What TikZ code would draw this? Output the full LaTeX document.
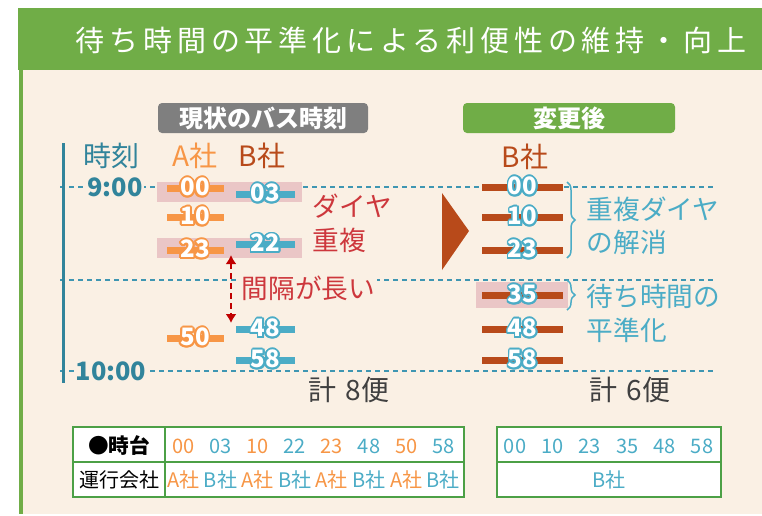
\documentclass[tikz,border=0pt]{standalone}
\usepackage{fontspec}
\setmainfont{Noto Sans CJK JP}
\usepackage{contour}
\usetikzlibrary{arrows.meta,decorations.pathreplacing}

\newlength{\du}
\setlength{\du}{0.75pt}

\contourlength{1.4pt}
\contournumber{16}

\definecolor{headgreen}{RGB}{112,173,71}
\definecolor{paper}{RGB}{250,240,228}
\definecolor{colA}{RGB}{247,150,70}
\definecolor{colB}{RGB}{75,172,198}
\definecolor{busbrown}{RGB}{184,74,26}
\definecolor{timeteal}{RGB}{49,132,155}
\definecolor{gridblue}{RGB}{62,150,178}
\definecolor{dupred}{RGB}{205,55,60}
\definecolor{arrowred}{RGB}{192,0,0}
\definecolor{duppink}{RGB}{234,198,198}
\definecolor{taggray}{RGB}{127,127,127}
\definecolor{tablegreen}{RGB}{76,160,70}
\definecolor{sumgray}{RGB}{64,64,64}

\tikzset{
  titletext/.style={text=white, font=\fontsize{21.75pt}{26pt}\selectfont\addfontfeature{LetterSpace=16.5}},
  tagbox/.style={text=white, rounded corners=4\du, minimum height=30\du, inner sep=0pt, font=\bfseries\fontsize{18pt}{20pt}\selectfont},
  headtext/.style={font=\fontsize{21pt}{24pt}\selectfont},
  hourtext/.style={text=timeteal, fill=paper, inner sep=1.5\du, font=\bfseries\fontsize{19pt}{21pt}\selectfont},
  timegrid/.style={draw=gridblue, line width=1.3\du, dash pattern=on 5\du off 4\du},
  timeaxis/.style={draw=timeteal, line width=3\du},
  busbar/.style={minimum height=7\du, inner sep=0pt},
  busnum/.style={text=white, inner sep=0pt, font=\bfseries\fontsize{18pt}{20pt}\selectfont},
  dupbox/.style={fill=duppink, inner sep=0pt},
  redtext/.style={text=dupred, align=left, font=\fontsize{20pt}{25.5pt}\selectfont},
  bluetext/.style={text=colB, align=left, font=\fontsize{20pt}{25pt}\selectfont},
  gaparrow/.style={draw=arrowred, line width=2.5\du, dash pattern=on 6\du off 4\du,
    {Latex[length=6.75pt,width=8.25pt]}-{Latex[length=6.75pt,width=8.25pt]}},
  bluebrace/.style={draw=colB, line width=1.5\du, decorate, decoration={brace, amplitude=6pt}},
  sumtext/.style={text=sumgray, font=\fontsize{21pt}{23pt}\selectfont},
  tableline/.style={draw=tablegreen, line width=1.5\du},
  celltext/.style={inner sep=0pt, font=\fontsize{15pt}{17pt}\selectfont},
}

% bar with its minute label: name, x, y, width, bar colour, outline colour, text
\newcommand{\busmark}[7]{%
  \node[busbar, minimum width=#4\du, fill=#5] (#1) at (#2\du,#3\du) {};
  \node[busnum] (#1-num) at (#1) {\contour{#6}{#7}};
}

\begin{document}
\begin{tikzpicture}
\pgftransformxscale{1.000000}
\pgftransformyscale{-1.000000}
\useasboundingbox (0\du,0\du) rectangle (762\du,515\du);
\fill[white] (0\du,0\du) rectangle (762\du,515\du);
% header and panel
\fill[headgreen] (18\du,8\du) rectangle (762\du,70\du);
\fill[paper] (19\du,70\du) rectangle (762\du,514\du);
\fill[headgreen] (19\du,70\du) rectangle (23\du,514\du);
\node[titletext] (title) at (411\du,40\du) {待ち時間の平準化による利便性の維持・向上};
\node[tagbox, fill=taggray, minimum width=210\du] (nowtag) at (263\du,118\du) {現状のバス時刻};
\node[tagbox, fill=headgreen, minimum width=212\du] (newtag) at (569\du,118\du) {変更後};
% column heads
\node[headtext, text=timeteal] (jikoku) at (111\du,156\du) {時刻};
\node[headtext, text=colA] (headA) at (195\du,156\du) {A社};
\node[headtext, text=busbrown] (headB) at (262\du,156\du) {B社};
\node[headtext, text=busbrown] (headBnew) at (525\du,157\du) {B社};
% time grid
\draw[timegrid] (60\du,187\du) -- (715\du,187\du);
\draw[timegrid] (60\du,280\du) -- (715\du,280\du);
\draw[timegrid] (60\du,371\du) -- (715\du,371\du);
\draw[timeaxis] (63.5\du,143\du) -- (63.5\du,383\du);
\node[hourtext] (nine) at (115\du,187\du) {9:00};
\node[hourtext] (ten) at (111\du,371\du) {10:00};
% overlapping runs
\node[dupbox, minimum width=145\du, minimum height=20\du] (dup1) at (229.5\du,192\du) {};
\node[dupbox, minimum width=145\du, minimum height=20\du] (dup2) at (229.5\du,248\du) {};
\node[dupbox, minimum width=92\du, minimum height=26\du] (even35) at (522\du,295\du) {};
% current timetable
\busmark{a00}{195}{188}{57}{colA}{colA}{00}
\busmark{a10}{195}{217}{57}{colA}{colA}{10}
\busmark{a23}{195}{250}{57}{colA}{colA}{23}
\busmark{a50}{195}{338}{57}{colA}{colA}{50}
\busmark{b03}{265.5}{194}{59}{colB}{colB}{03}
\busmark{b22}{265.5}{244}{59}{colB}{colB}{22}
\busmark{b48}{265.5}{329}{59}{colB}{colB}{48}
\busmark{b58}{265.5}{360}{59}{colB}{colB}{58}
\node[redtext, anchor=west] (overlap) at (308\du,223\du) {ダイヤ\\重複};
\node[redtext, fill=paper, inner sep=2\du] (longgap) at (308.5\du,288\du) {間隔が長い};
\coordinate (gapTop) at (231\du,255\du);
\coordinate (gapBot) at (231\du,323\du);
\draw[gaparrow] (gapTop) -- (gapBot);
% change
\fill[busbrown] (442\du,193\du) -- (442\du,270\du) -- (469\du,231\du) -- cycle;
% new timetable
\busmark{n00}{522.5}{187}{81}{busbrown}{colB}{00}
\busmark{n10}{522.5}{217}{81}{busbrown}{colB}{10}
\busmark{n23}{522.5}{250}{81}{busbrown}{colB}{23}
\busmark{n35}{522.5}{295}{81}{busbrown}{colB}{35}
\busmark{n48}{522.5}{329}{81}{busbrown}{colB}{48}
\busmark{n58}{522.5}{360}{81}{busbrown}{colB}{58}
\coordinate (braceA1) at (567\du,182\du);
\coordinate (braceA2) at (567\du,258\du);
\coordinate (braceB1) at (567\du,280\du);
\coordinate (braceB2) at (567\du,310\du);
\draw[bluebrace] (braceA1) -- (braceA2);
\draw[bluebrace] (braceB1) -- (braceB2);
\node[bluetext, anchor=west] (cleared) at (582\du,225.5\du) {重複ダイヤ\\の解消};
\node[bluetext, anchor=west] (smooth) at (582\du,313.5\du) {待ち時間の\\平準化};
% totals
\node[sumtext] (sumOld) at (349\du,390\du) {計\,\,8便};
\node[sumtext] (sumNew) at (630\du,390\du) {計\,\,6便};
% table, current
\draw[tableline, fill=white] (73\du,427\du) rectangle (464\du,497\du);
\draw[tableline] (73\du,462\du) -- (464\du,462\du);
\draw[tableline] (165\du,427\du) -- (165\du,497\du);
\node[celltext, font=\bfseries\fontsize{15.5pt}{17pt}\selectfont] (hourOld) at (119\du,446\du) {●時台};
\node[celltext] (firmOld) at (119\du,480\du) {運行会社};
\node[celltext, text=colA] (t00) at (183.4\du,446\du) {00};
\node[celltext, text=colB] (t03) at (220.5\du,446\du) {03};
\node[celltext, text=colA] (t10) at (257.6\du,446\du) {10};
\node[celltext, text=colB] (t22) at (294.8\du,446\du) {22};
\node[celltext, text=colA] (t23) at (331.9\du,446\du) {23};
\node[celltext, text=colB] (t48) at (369.0\du,446\du) {48};
\node[celltext, text=colA] (t50) at (406.1\du,446\du) {50};
\node[celltext, text=colB] (t58) at (443.3\du,446\du) {58};
\node[celltext, text=colA] (f00) at (183.4\du,480\du) {A社};
\node[celltext, text=colB] (f03) at (220.5\du,480\du) {B社};
\node[celltext, text=colA] (f10) at (257.6\du,480\du) {A社};
\node[celltext, text=colB] (f22) at (294.8\du,480\du) {B社};
\node[celltext, text=colA] (f23) at (331.9\du,480\du) {A社};
\node[celltext, text=colB] (f48) at (369.0\du,480\du) {B社};
\node[celltext, text=colA] (f50) at (406.1\du,480\du) {A社};
\node[celltext, text=colB] (f58) at (443.3\du,480\du) {B社};
% table, new
\draw[tableline, fill=white] (497\du,427\du) rectangle (721\du,497\du);
\draw[tableline] (497\du,462\du) -- (721\du,462\du);
\node[celltext, text=colB] (m00) at (515\du,446\du) {00};
\node[celltext, text=colB] (m10) at (552.4\du,446\du) {10};
\node[celltext, text=colB] (m23) at (589.8\du,446\du) {23};
\node[celltext, text=colB] (m35) at (627.2\du,446\du) {35};
\node[celltext, text=colB] (m48) at (664.6\du,446\du) {48};
\node[celltext, text=colB] (m58) at (702\du,446\du) {58};
\node[celltext, text=colB] (firmNew) at (609\du,480\du) {B社};
\end{tikzpicture}
\end{document}
